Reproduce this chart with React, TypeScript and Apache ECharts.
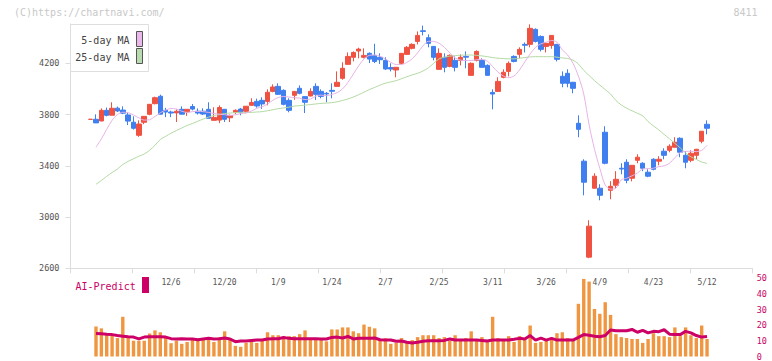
import React, { useEffect, useRef } from "react";
import * as echarts from "echarts";

const dates = [
  "11/15","11/18","11/19","11/20","11/21","11/22","11/25","11/26","11/27","11/28","11/29",
  "12/2","12/3","12/4","12/5","12/6","12/9","12/10","12/11","12/12","12/13","12/16","12/17","12/18","12/19","12/20","12/23","12/24","12/25","12/26","12/27","12/30",
  "1/6","1/7","1/8","1/9","1/10","1/14","1/15","1/16","1/17","1/20","1/21","1/22","1/23","1/24","1/27","1/28","1/29","1/30","1/31",
  "2/3","2/4","2/5","2/6","2/7","2/10","2/12","2/13","2/14","2/17","2/18","2/19","2/20","2/21","2/25","2/26","2/27","2/28",
  "3/3","3/4","3/5","3/6","3/7","3/10","3/11","3/12","3/13","3/14","3/17","3/18","3/19","3/21","3/24","3/25","3/26","3/27","3/28","3/31",
  "4/1","4/2","4/3","4/4","4/7","4/8","4/9","4/10","4/11","4/14","4/15","4/16","4/17","4/18","4/21","4/22","4/23","4/24","4/25","4/28","4/30",
  "5/1","5/2","5/7","5/8","5/9","5/12",
];

const dateLabels = ["12/6","12/20","1/9","1/24","2/7","2/25","3/11","3/26","4/9","4/23","5/12"];
const priceTicks = [2600, 3000, 3400, 3800, 4200];

const opens = [
  3763,3763,3750,3833,3795,3850,3835,3797,3740,3638,3740,3802,3885,3943,3833,3820,3813,3841,3820,3863,
  3826,3826,3841,3755,3757,3841,3775,3818,3843,3826,3872,3903,3911,3903,3981,4020,3989,3911,3950,4005,
  3940,3945,4020,3981,3966,3989,4020,4083,4192,4247,4296,4247,4278,4262,4247,4223,4167,4148,4200,4270,
  4317,4371,4454,4400,4332,4153,4247,4176,4223,4223,4254,4106,4223,4223,4184,3973,3981,4091,4137,4254,
  4270,4348,4348,4465,4410,4332,4340,4348,4099,4122,4052,3732,3436,2687,3225,3225,3662,3209,3248,3381,
  3428,3303,3443,3420,3350,3451,3436,3514,3521,3545,3615,3482,3443,3482,3592,3724,
];
const closes = [
  3763,3735,3833,3794,3849,3828,3811,3749,3693,3726,3786,3880,3932,3803,3820,3812,3826,3803,3841,3843,
  3812,3804,3771,3778,3855,3763,3793,3833,3818,3865,3895,3867,3883,3974,4015,3958,3880,3833,3981,3966,
  3896,3981,3958,3942,3961,3982,4052,4161,4254,4285,4311,4262,4233,4215,4228,4156,4155,4169,4278,4325,
  4348,4418,4449,4356,4247,4278,4169,4262,4169,4247,4248,4200,4293,4169,4106,3960,4059,4130,4200,4215,
  4309,4341,4473,4371,4309,4356,4418,4231,4044,4044,4005,3685,3272,2929,3319,3170,3420,3240,3295,3375,
  3287,3404,3467,3381,3319,3373,3451,3482,3553,3584,3506,3428,3498,3529,3670,3693,
];
const lows = [
  3763,3735,3748,3786,3794,3820,3803,3718,3683,3626,3725,3795,3880,3800,3780,3780,3742,3800,3790,3833,
  3800,3796,3768,3755,3733,3742,3742,3803,3794,3810,3870,3854,3844,3872,3974,3955,3872,3818,3916,3958,
  3812,3943,3914,3927,3896,3927,4018,4072,4190,4215,4239,4239,4202,4202,4195,4148,4137,4091,4192,4265,
  4309,4348,4418,4325,4223,4150,4130,4169,4137,4184,4161,4104,4215,4167,4104,3841,3979,4083,4098,4208,
  4239,4285,4325,4363,4293,4285,4314,4215,4013,4013,3966,3623,3170,2679,3222,3131,3412,3139,3225,3334,
  3264,3279,3420,3358,3311,3365,3404,3451,3506,3543,3467,3381,3428,3451,3576,3646,
];
const highs = [
  3763,3802,3848,3855,3896,3862,3864,3812,3786,3755,3788,3882,3940,3955,3852,3830,3840,3864,3843,3882,
  3848,3849,3896,3857,3872,3843,3800,3841,3852,3867,3927,3924,3935,3997,4036,4044,3997,3927,3983,4028,
  3942,4005,4044,3997,3976,4044,4137,4208,4285,4293,4322,4317,4285,4353,4278,4247,4200,4171,4280,4335,
  4356,4449,4494,4426,4335,4317,4278,4270,4254,4270,4293,4207,4301,4239,4192,3997,4091,4153,4215,4262,
  4325,4363,4504,4473,4418,4363,4420,4350,4137,4153,4055,3794,3451,2975,3342,3256,3709,3280,3358,3420,
  3451,3406,3490,3428,3373,3459,3475,3537,3568,3623,3623,3514,3521,3532,3672,3755,
];

const ma5 = [
  null,3545,3610,3685,3755,3800,3818,3815,3796,3774,3757,3760,3785,3814,3835,3847,3844,3826,3817,3823,
  3825,3823,3817,3808,3803,3799,3793,3798,3808,3813,3828,3849,3861,3882,3912,3933,3941,3937,3932,3928,
  3917,3921,3944,3952,3948,3957,3972,4000,4051,4115,4180,4234,4262,4265,4255,4234,4208,4191,4191,4207,
  4236,4282,4336,4372,4371,4357,4325,4281,4243,4225,4222,4222,4228,4231,4217,4175,4131,4101,4088,4102,
  4148,4211,4274,4325,4352,4366,4378,4365,4305,4265,4200,4100,3960,3720,3530,3380,3250,3218,3225,3290,
  3303,3322,3343,3375,3378,3381,3394,3400,3420,3463,3503,3513,3513,3511,3520,3560,
];
const ma25 = [
  null,3256,3285,3318,3348,3375,3410,3435,3455,3475,3492,3521,3560,3605,3630,3655,3675,3695,3715,3730,
  3748,3765,3780,3793,3800,3808,3812,3815,3818,3815,3817,3820,3823,3830,3838,3846,3852,3858,3866,3870,
  3874,3878,3883,3887,3890,3893,3900,3910,3922,3937,3955,3975,3995,4012,4030,4045,4055,4065,4080,4095,
  4110,4122,4140,4165,4200,4235,4248,4256,4260,4263,4265,4265,4262,4258,4252,4245,4240,4237,4235,4235,
  4240,4245,4250,4252,4252,4252,4252,4248,4242,4238,4225,4195,4145,4105,4065,4030,3995,3960,3910,3875,
  3850,3830,3810,3790,3745,3712,3680,3645,3610,3575,3540,3500,3470,3450,3430,3418,
];

const volumes = [
  null,19.2,18.0,13.8,13.8,11.8,25.4,11.8,10.1,10.1,10.1,14.7,16.7,15.5,12.2,8.5,10.1,8.1,9.3,10.9,
  11.4,10.9,12.2,9.3,12.2,16.1,11.8,6.8,6.2,8.7,9.5,8.7,11.2,15.5,13.6,13.6,11.8,13.0,13.0,14.3,
  16.7,11.2,11.8,11.2,9.7,17.3,17.3,18.6,18.6,16.1,14.9,20.4,19.0,18.0,11.2,11.6,8.1,8.7,11.8,9.0,
  10.5,12.4,13.6,13.6,13.6,11.8,12.4,9.9,13.6,10.5,11.8,16.1,9.9,12.4,9.9,25.4,11.8,9.9,13.0,9.3,
  13.0,10.5,19.8,8.7,9.3,9.9,11.2,14.9,15.5,11.8,10.5,33.7,49.6,47.9,30.4,27.3,34.7,26.6,14.3,12.4,
  11.8,11.2,11.2,8.7,11.2,14.9,13.0,13.0,12.4,18.6,13.0,18.6,13.6,11.8,19.8,11.2,
];
const aiPredict = [
  null,14.7,14.5,14.2,14.0,13.4,13.0,12.6,12.4,11.3,12.4,12.6,12.6,12.6,12.4,11.4,11.2,11.4,11.2,11.2,
  10.7,11.2,11.6,11.2,11.4,11.8,11.2,9.5,9.9,9.9,10.3,10.5,10.5,11.2,11.4,11.4,12.2,11.6,11.4,11.4,
  11.4,11.4,11.4,11.2,11.2,12.2,12.4,11.8,12.8,11.2,11.6,11.6,11.6,11.8,10.7,10.5,10.5,9.7,9.9,9.1,
  8.7,9.1,9.7,10.1,10.1,10.1,10.3,11.2,10.5,10.5,10.5,10.5,10.5,10.3,9.9,10.5,10.5,10.5,10.5,11.0,
  11.6,11.2,13.4,10.5,11.8,10.5,11.6,10.5,10.5,10.5,10.5,12.2,14.0,13.6,13.0,12.6,13.4,16.9,16.5,16.5,
  16.5,17.3,15.5,16.7,15.1,16.1,15.9,17.1,14.3,14.0,14.0,16.1,15.1,13.4,12.4,12.8,
];

const MONO = '"DejaVu Sans Mono", monospace';
const UP = "#f05242";
const DOWN = "#3f7ff0";
const AXIS = "#dcdcdc";
const MAGENTA = "#cc0066";

export default function App() {
  const ref = useRef<HTMLDivElement>(null);

  useEffect(() => {
    if (!ref.current) return;
    const chart = echarts.init(ref.current, undefined, { renderer: "svg" });
    const candles = opens.map((o, i) => [o, closes[i], lows[i], highs[i]]);

    chart.setOption({
      animation: false,
      backgroundColor: "#ffffff",
      grid: [
        { left: 70.5, right: 19.7, top: 24, bottom: 92.7 },
        { left: 87.96, right: 62.28, top: 24, bottom: 92.7 },
        { left: 87.96, right: 62.28, top: 278.3, bottom: 2.5 },
      ],
      xAxis: [
        {
          type: "value",
          gridIndex: 0,
          min: 0,
          max: 11,
          interval: 1,
          axisLine: { show: true, lineStyle: { color: AXIS } },
          axisTick: { show: true, length: 5, lineStyle: { color: AXIS } },
          axisLabel: { show: false },
          splitLine: { show: false },
        },
        {
          type: "category",
          gridIndex: 1,
          data: dates,
          boundaryGap: true,
          axisLine: { show: false },
          axisTick: { show: false },
          splitLine: { show: false },
          axisLabel: {
            interval: (_i: number, v: string) => dateLabels.includes(v),
            margin: 10,
            color: "#555",
            fontSize: 8,
            fontFamily: MONO,
          },
        },
        {
          type: "category",
          gridIndex: 2,
          data: dates,
          boundaryGap: true,
          show: false,
        },
      ],
      yAxis: [
        {
          type: "value",
          gridIndex: 0,
          min: 2600,
          max: 4507,
          axisLine: { show: true, lineStyle: { color: AXIS } },
          axisTick: { show: true, length: 5, lineStyle: { color: AXIS }, customValues: priceTicks },
          axisLabel: {
            color: "#555",
            fontSize: 8.5,
            fontFamily: MONO,
            margin: 11,
            customValues: priceTicks,
            formatter: (v: number) => String(v),
          },
          splitLine: { show: false },
        },
        { type: "value", gridIndex: 1, min: 2600, max: 4507, show: false },
        {
          type: "value",
          gridIndex: 2,
          min: 0,
          max: 50,
          interval: 10,
          position: "right",
          axisLine: { show: false },
          axisTick: { show: false },
          splitLine: { show: false },
          axisLabel: { color: MAGENTA, fontSize: 8.5, fontFamily: MONO, margin: 47 },
        },
      ],
      series: [
        {
          type: "line",
          name: "25-day MA",
          xAxisIndex: 1,
          yAxisIndex: 1,
          data: ma25,
          symbol: "none",
          smooth: 0.3,
          lineStyle: { width: 1, color: "#b3d9a3" },
        },
        {
          type: "line",
          name: "5-day MA",
          xAxisIndex: 1,
          yAxisIndex: 1,
          data: ma5,
          symbol: "none",
          smooth: 0.3,
          lineStyle: { width: 1, color: "#e6b3e6" },
        },
        {
          type: "candlestick",
          xAxisIndex: 1,
          yAxisIndex: 1,
          data: candles,
          barWidth: 5,
          itemStyle: {
            color: UP,
            color0: DOWN,
            borderColor: UP,
            borderColor0: DOWN,
            borderWidth: 1,
          },
        },
        {
          type: "bar",
          xAxisIndex: 2,
          yAxisIndex: 2,
          data: volumes,
          barWidth: 3.4,
          itemStyle: { color: "#f09640" },
        },
        {
          type: "line",
          xAxisIndex: 2,
          yAxisIndex: 2,
          data: aiPredict,
          symbol: "none",
          lineStyle: { width: 3, color: MAGENTA },
        },
      ],
      graphic: [
        {
          type: "text",
          z: 100,
          style: { text: "(C)https://chartnavi.com/", x: 14, y: 12.5, fill: "#c8c8c8", font: `10px ${MONO}`, verticalAlign: "middle" },
        },
        {
          type: "text",
          z: 100,
          style: { text: "8411", x: 757.5, y: 12.5, fill: "#c8c8c8", font: `10px ${MONO}`, align: "right", verticalAlign: "middle" },
        },
        {
          type: "rect",
          z: 100,
          shape: { x: 70.5, y: 24.5, width: 78, height: 47 },
          style: { fill: "#ffffff", stroke: "#dedede", lineWidth: 1 },
        },
        {
          type: "text",
          z: 101,
          style: { text: "5-day MA", x: 129.5, y: 40.5, fill: "#444", font: `10px ${MONO}`, align: "right", verticalAlign: "middle" },
        },
        {
          type: "text",
          z: 101,
          style: { text: "25-day MA", x: 129.5, y: 57, fill: "#444", font: `10px ${MONO}`, align: "right", verticalAlign: "middle" },
        },
        {
          type: "rect",
          z: 101,
          shape: { x: 136.5, y: 31.5, width: 6, height: 15 },
          style: { fill: "#eab8ea", stroke: "#555", lineWidth: 1 },
        },
        {
          type: "rect",
          z: 101,
          shape: { x: 136.5, y: 48.5, width: 6, height: 15 },
          style: { fill: "#b8dcb0", stroke: "#555", lineWidth: 1 },
        },
        {
          type: "text",
          z: 100,
          style: { text: "AI-Predict", x: 75.5, y: 286, fill: MAGENTA, font: `10px ${MONO}`, verticalAlign: "middle" },
        },
        {
          type: "rect",
          z: 100,
          shape: { x: 142, y: 277, width: 7, height: 16 },
          style: { fill: MAGENTA },
        },
      ],
    });

    return () => chart.dispose();
  }, []);

  return (
    <div
      ref={ref}
      style={{ position: "fixed", left: 0, top: 0, width: 772, height: 361, background: "#fff" }}
    />
  );
}
